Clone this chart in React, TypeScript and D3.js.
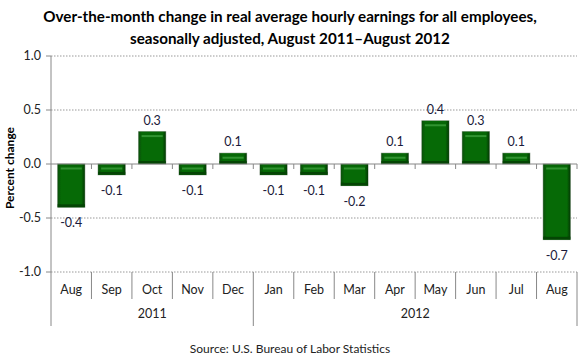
import React from "react";
import * as d3 from "d3";

const months = ["Aug","Sep","Oct","Nov","Dec","Jan","Feb","Mar","Apr","May","Jun","Jul","Aug"];
const years = ["2011","2012"];
const yearSpans = [5, 8];
const values = [-0.4,-0.1,0.3,-0.1,0.1,-0.1,-0.1,-0.2,0.1,0.4,0.3,0.1,-0.7];
const yTicks = [1.0, 0.5, 0.0, -0.5, -1.0];
const titleLines = ["Over-the-month change in real average hourly earnings for all employees,", "seasonally adjusted, August 2011\u2013August 2012"];
const yTitle = "Percent change";
const source = "Source: U.S. Bureau of Labor Statistics";

const W = 580, H = 360;
const left = 51, right = 577, top = 56, bottom = 272;
const font = "Lato, 'Open Sans', sans-serif";

export default function App() {
  const idx = months.map((_, i) => i);
  const x = d3.scaleBand<number>().domain(idx).range([left, right]).paddingInner(0.33).paddingOuter(0.165);
  const xb = d3.scaleLinear().domain([0, months.length]).range([left, right]);
  const y = d3.scaleLinear().domain([-1, 1]).range([bottom, top]);
  const y0 = y(0);
  let acc = 0;
  const yearBounds = yearSpans.map((s) => { const a = acc; acc += s; return [a, acc]; });

  return (
    <svg width={W} height={H} style={{ position: "absolute", left: 0, top: 0, background: "#fff" }}>
      <defs>
        <linearGradient id="side" x1="0" x2="1" y1="0" y2="0">
          <stop offset="0" stopColor="#0b4f0b" />
          <stop offset="0.12" stopColor="#076807" />
          <stop offset="0.88" stopColor="#066606" />
          <stop offset="1" stopColor="#033a03" />
        </linearGradient>
      </defs>
      {titleLines.map((t, i) => (
        <text key={i} x={290} y={22 + i * 22} textAnchor="middle" fontFamily={font} fontWeight="bold" fontSize={15.2} fill="#000">{t}</text>
      ))}
      {yTicks.filter((v) => v !== 0).map((v) => (
        <line key={v} x1={left} x2={right} y1={y(v)} y2={y(v)} stroke="#999" strokeDasharray="1.5,1.5" strokeWidth={1} />
      ))}
      <line x1={left} x2={left} y1={top} y2={bottom} stroke="#888" />
      {yTicks.map((v) => (
        <g key={v}>
          <line x1={left - 5} x2={left} y1={y(v)} y2={y(v)} stroke="#888" />
          <text x={41} y={y(v) + 4} textAnchor="end" fontFamily={font} fontSize={12.5} fill="#222">{d3.format(".1f")(v).replace("\u2212", "-")}</text>
        </g>
      ))}
      <text transform={`translate(14,${(top + bottom) / 2 + 4}) rotate(-90)`} textAnchor="middle" fontFamily={font} fontWeight="bold" fontSize={12} fill="#000">{yTitle}</text>
      {values.map((v, i) => {
        const bx = x(i)!;
        const bw = x.bandwidth();
        const yTop = Math.min(y(v), y0);
        const bh = Math.abs(y(v) - y0);
        const inset = 3;
        return (
          <g key={i}>
            <rect x={bx - 0.5} y={yTop - 0.5} width={bw + 1} height={bh + 1} fill="#9aa89a" />
            <rect x={bx} y={yTop} width={bw} height={bh} fill="url(#side)" />
            <rect x={bx} y={yTop + bh - Math.min(3, bh / 3)} width={bw} height={Math.min(3, bh / 3)} fill="#044504" />
            <rect x={bx + inset} y={yTop + Math.min(inset, bh / 3)} width={bw - 2 * inset} height={Math.max(0, bh - 2 * Math.min(inset, bh / 3))} fill="#066a06" />
            <rect x={bx + inset} y={yTop + Math.min(3.5, bh / 2 - 1)} width={bw - 2 * inset} height={2} fill="#3a9a3a" opacity={0.85} />
            <text x={bx + bw / 2} y={v >= 0 ? y(v) - 7 : y(v) + 20} textAnchor="middle" fontFamily={font} fontSize={12.5} fill="#1a1a3a">{d3.format(".1f")(v).replace("\u2212", "-")}</text>
          </g>
        );
      })}
      <line x1={left} x2={right} y1={y0} y2={y0} stroke="#888" strokeWidth={1.2} />
      {d3.range(1, months.length + 1).map((k) => (
        <line key={k} x1={xb(k)} x2={xb(k)} y1={y0} y2={y0 + 5} stroke="#888" />
      ))}
      {months.map((m, i) => (
        <text key={i} x={xb(i + 0.5)} y={294} textAnchor="middle" fontFamily={font} fontSize={12.5} fill="#222">{m}</text>
      ))}
      {d3.range(0, months.length + 1).map((k) => {
        const isYear = yearBounds.some(([a, b]) => a === k || b === k);
        return <line key={k} x1={xb(k)} x2={xb(k)} y1={bottom} y2={isYear ? 326 : 299} stroke="#888" />;
      })}
      {years.map((yr, i) => (
        <text key={yr} x={xb((yearBounds[i][0] + yearBounds[i][1]) / 2)} y={318} textAnchor="middle" fontFamily={font} fontSize={12.5} fill="#222">{yr}</text>
      ))}
      <text x={290} y={353} textAnchor="middle" fontFamily={font} fontSize={12} fill="#222">{source}</text>
    </svg>
  );
}
